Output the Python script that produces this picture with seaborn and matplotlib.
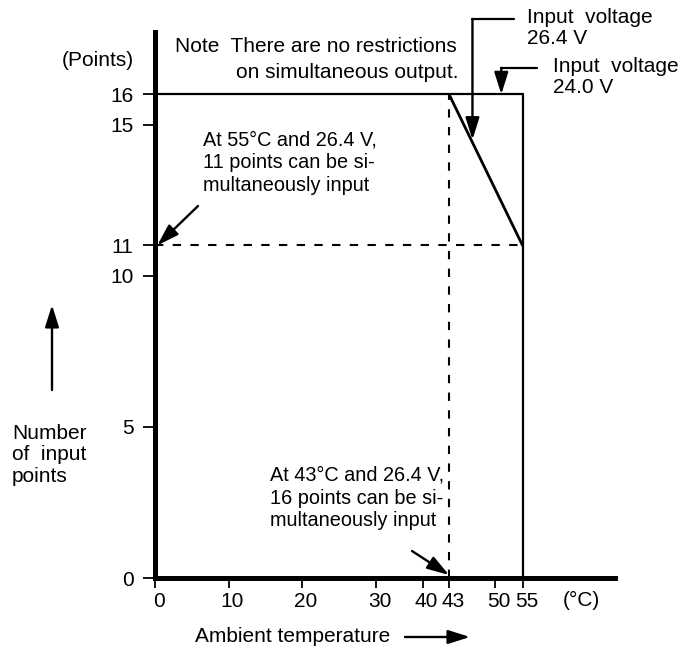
import numpy as np
import pandas as pd
import matplotlib
matplotlib.use("Agg")
import matplotlib.pyplot as plt
import matplotlib.transforms as mtransforms
import seaborn as sns

# data
temp_24 = [0, 55, 55]          # input voltage 24.0 V
points_24 = [16, 16, 0]
temp_264 = [43, 55]            # input voltage 26.4 V
points_264 = [16, 11]
x_ticks = [0, 10, 20, 30, 40, 43, 50, 55]
y_ticks = [0, 5, 10, 11, 15, 16]

# the drawing squeezes the x axis above 30 C, so use a piecewise scale
temp_anchor = [-100, 0, 10, 20, 30, 40, 43, 50, 55, 200]
pos_anchor = [-100, 0, 10, 20, 30, 36.4, 40, 46.2, 50, 157.3]


def fwd(t):
    return np.interp(t, temp_anchor, pos_anchor)


def inv(p):
    return np.interp(p, pos_anchor, temp_anchor)


sns.set_style("white")
plt.rcParams['font.family'] = ['Liberation Sans', 'DejaVu Sans']
plt.rcParams['text.color'] = 'black'
FS = 15

W, H = 683, 648
fig = plt.figure(figsize=(W / 100, H / 100), dpi=100)
ax = fig.add_axes([155 / W, (H - 578) / H, (615 - 155) / W, (578 - 32) / H])
ax.set_xscale('function', functions=(fwd, inv))

df24 = pd.DataFrame({'temp': temp_24, 'points': points_24})
df264 = pd.DataFrame({'temp': temp_264, 'points': points_264})
sns.lineplot(data=df24, x='temp', y='points', sort=False, estimator=None,
             color='black', lw=1.6, ax=ax)
sns.lineplot(data=df264, x='temp', y='points', sort=False, estimator=None,
             color='black', lw=2.0, ax=ax)

# dashed guides
ax.plot([0, 55], [11, 11], color='black', lw=1.5, ls=(0, (4, 4.5)))
ax.plot([43, 43], [0, 16], color='black', lw=1.5, ls=(0, (4, 4.5)))

ax.set_xlim(0, 72)
ax.set_ylim(0, 18.06)
ax.set_xlabel('')
ax.set_ylabel('')
sns.despine(ax=ax)
for s in ['left', 'bottom']:
    ax.spines[s].set_linewidth(3.6)
    ax.spines[s].set_color('black')

ax.set_xticks(x_ticks)
ax.set_xticklabels([str(v) for v in x_ticks])
ax.set_yticks(y_ticks)
ax.set_yticklabels([str(v) for v in y_ticks])
ax.minorticks_off()
ax.tick_params(axis='x', direction='out', length=7, width=1.3, pad=3,
               labelsize=FS, colors='black', bottom=True)
ax.tick_params(axis='y', direction='out', length=8.5, width=1.3, pad=7,
               labelsize=FS, colors='black', left=True)
shift = mtransforms.ScaledTranslation(4 / 100, 0, fig.dpi_scale_trans)
for lab in ax.get_xticklabels():
    lab.set_transform(lab.get_transform() + shift)


def px_text(x, y, s, size=FS, **kw):
    fig.text(x / W, 1 - y / H, s, fontsize=size, va='center', color='black', **kw)


arrow = dict(arrowstyle='-|>,head_length=0.95,head_width=0.3', color='black',
             lw=1.7, mutation_scale=14, shrinkA=0, shrinkB=0)

# axis captions
px_text(62, 60, '(Points)')
px_text(12, 455, 'Number\nof  input\npoints', linespacing=1.15)
px_text(195, 637, 'Ambient temperature')
px_text(563, 600, '(°C)')
ax.annotate('', xy=(52, H - 305), xytext=(52, H - 390),
            xycoords='figure pixels', arrowprops=arrow)
ax.annotate('', xy=(470, H - 637), xytext=(405, H - 637),
            xycoords='figure pixels', arrowprops=arrow)

# notes
px_text(175, 47, 'Note  There are no restrictions')
px_text(458, 72, 'on simultaneous output.', ha='right')
px_text(203, 163, 'At 55°C and 26.4 V,\n11 points can be si-\nmultaneously input',
        size=14.3, linespacing=1.25)
px_text(270, 498, 'At 43°C and 26.4 V,\n16 points can be si-\nmultaneously input',
        size=14.3, linespacing=1.25)
ax.annotate('', xy=(0.3, 11), xytext=(198, H - 206), textcoords='figure pixels',
            arrowprops=arrow, annotation_clip=False)
ax.annotate('', xy=(43, 0.1), xytext=(412, H - 551), textcoords='figure pixels',
            arrowprops=arrow, annotation_clip=False)

# voltage leaders
px_text(527, 28, 'Input  voltage\n26.4 V', linespacing=1.15)
px_text(553, 77, 'Input  voltage\n24.0 V', linespacing=1.15)
ax.plot([46.6, 53.5], [18.49, 18.49], color='black', lw=1.6, clip_on=False)
ax.annotate('', xy=(46.6, 14.5), xytext=(46.6, 18.49), arrowprops=arrow,
            annotation_clip=False)
ax.plot([51.2, 57.7], [16.87, 16.87], color='black', lw=1.6, clip_on=False)
ax.annotate('', xy=(51.2, 16), xytext=(51.2, 16.87), arrowprops=arrow,
            annotation_clip=False)

fig.savefig('out.png', dpi=100)
